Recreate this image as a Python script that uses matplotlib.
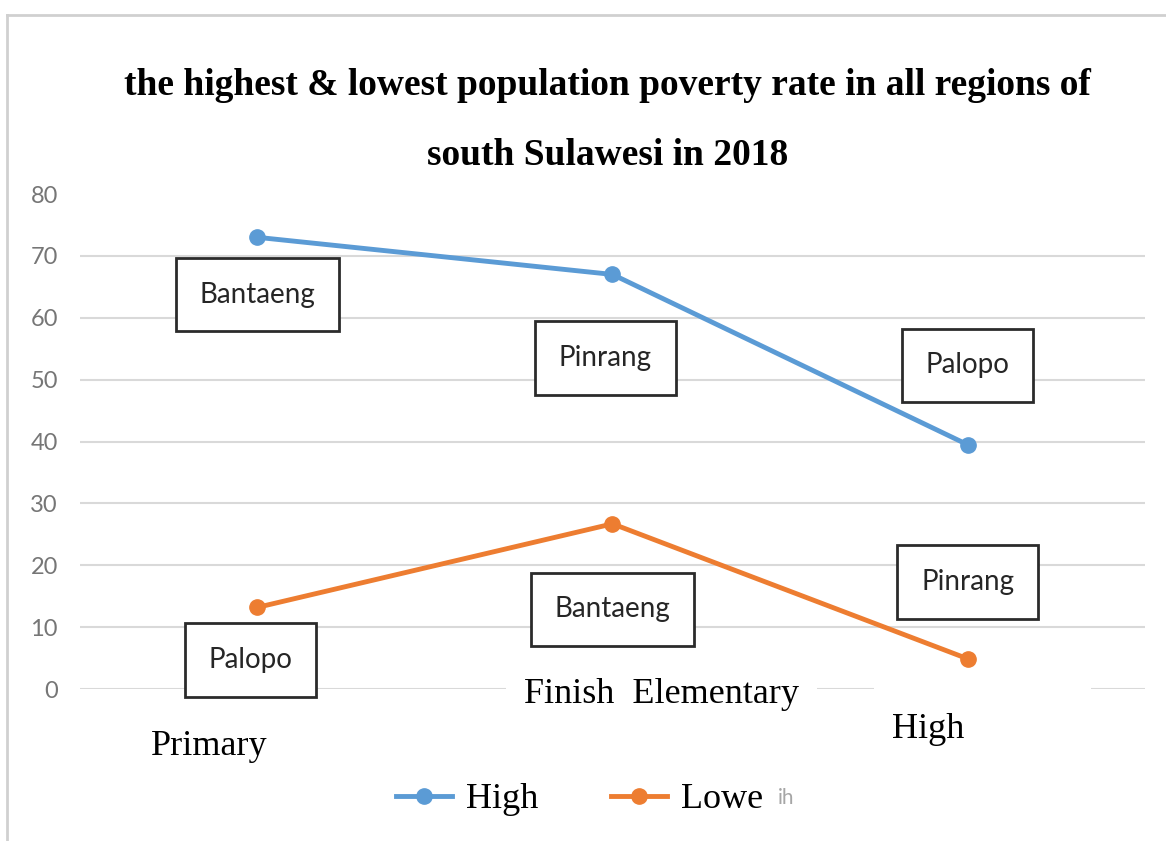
import matplotlib.pyplot as plt
from matplotlib.lines import Line2D
from matplotlib.patches import Rectangle

categories = ["Primary", "Finish  Elementary", "High"]
high_values = [73, 67, 39.5]
low_values = [13.2, 26.7, 4.9]
high_regions = ["Bantaeng", "Pinrang", "Palopo"]
low_regions = ["Palopo", "Bantaeng", "Pinrang"]
series_names = ["High", "Lowe"]

BLUE = "#5B9BD5"
ORANGE = "#ED7D31"
SERIF = "Liberation Serif"
SANS = "Lato"

fig = plt.figure(figsize=(11.66, 8.41), dpi=100)
ax = fig.add_axes([0.0686, 0.1807, 0.9134, 0.5886])

x = range(len(categories))
ax.plot(x, high_values, color=BLUE, lw=3.5, marker="o", ms=11, label=series_names[0], zorder=3)
ax.plot(x, low_values, color=ORANGE, lw=3.5, marker="o", ms=11, label=series_names[1], zorder=3)

ax.set_xlim(-0.5, 2.5)
ax.set_ylim(0, 80)
ax.set_yticks(range(0, 81, 10))
ax.set_xticks([])
ax.grid(axis="y", color="#D9D9D9", lw=1.5)
ax.get_ygridlines()[-1].set_visible(False)  # top line hidden behind the title box
ax.set_axisbelow(True)
for s in ax.spines.values():
    s.set_visible(False)
ax.tick_params(axis="y", length=0, pad=16, labelsize=17, labelcolor="#767676")
for lab in ax.get_yticklabels():
    lab.set_family(SANS)

# region name boxes
high_box_pos = [(0.0, 63.7), (0.98, 53.5), (2.0, 52.3)]
low_box_pos = [(-0.02, 4.7), (1.0, 12.9), (2.0, 17.3)]
box = dict(boxstyle="square,pad=0.85", fc="white", ec="#2b2b2b", lw=2)
for name, (bx, by) in zip(high_regions + low_regions, high_box_pos + low_box_pos):
    ax.text(bx, by, name, ha="center", va="center", fontsize=20, family=SANS,
            color="#262626", bbox=box, zorder=4)

# category labels (pasted text boxes with white fill)
cat_pos = [(-0.137, -10.7), (1.139, -2.3), (1.89, -7.9)]
for name, (cx, cy) in zip(categories, cat_pos):
    ax.text(cx, cy, name, ha="center", va="baseline", fontsize=26, family=SERIF,
            bbox=dict(fc="white", ec="none", pad=13), zorder=2)
ax.add_patch(Rectangle((1.737, -4), 0.61, 5.3, fc="white", ec="none",
                       clip_on=False, zorder=1.5))

fig.text(0.521, 0.887, "the highest & lowest population poverty rate in all regions of",
         ha="center", va="baseline", fontsize=27, family=SERIF, weight="bold")
fig.text(0.521, 0.804, "south Sulawesi in 2018",
         ha="center", va="baseline", fontsize=27, family=SERIF, weight="bold")

fig.legend(loc="center", bbox_to_anchor=(0.497, 0.049), ncol=2, frameon=False,
           prop={"family": SERIF, "size": 26}, handlelength=1.55,
           handletextpad=0.4, columnspacing=2.0)
fig.text(0.667, 0.051, "ih", ha="left", va="center", fontsize=15, family=SANS, color="#A6A6A6")

# screenshot frame
fig.add_artist(Line2D([0.006, 0.006], [0, 0.982], color="#D0D0D0", lw=2))
fig.add_artist(Line2D([0.006, 1], [0.982, 0.982], color="#D0D0D0", lw=2))

fig.savefig("out.png", dpi=100)
